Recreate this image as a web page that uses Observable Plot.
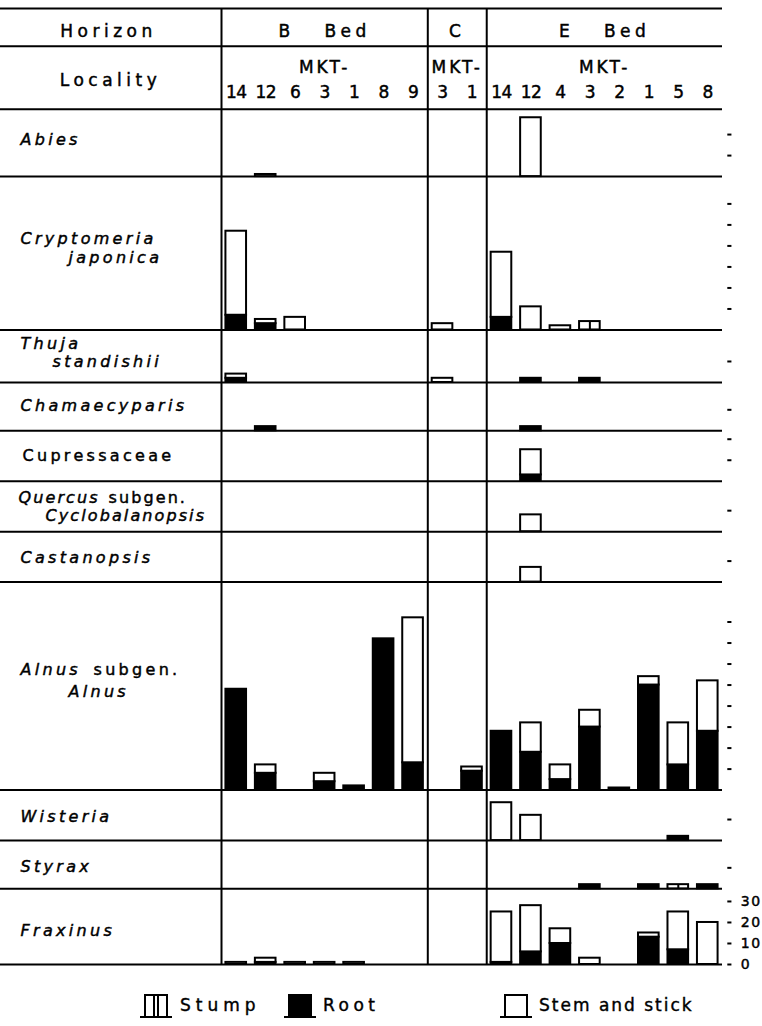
<!DOCTYPE html>
<html><head><meta charset="utf-8">
<script src="https://cdn.jsdelivr.net/npm/d3@7"></script>
<script src="https://cdn.jsdelivr.net/npm/@observablehq/plot@0.6"></script>
<style>
body{margin:0;background:#fff;}
#wrap{position:relative;width:762px;height:1026px;font-family:"DejaVu Sans",sans-serif;color:#000;}
#chart svg text{white-space:pre;paint-order:stroke;stroke:#000;stroke-width:0.45px;}
g[aria-description="hdr"] text{letter-spacing:4.5px;}
g[aria-description="mkt"] text{letter-spacing:3px;}
g[aria-description="num"] text{letter-spacing:-0.5px;}
g[aria-description="taxon"] text{letter-spacing:3.3px;}
g[aria-description="taxon-tight"] text{letter-spacing:2.1px;}
g[aria-description="scale"] text{letter-spacing:1.5px;}
#legend{position:absolute;top:990px;left:0;width:762px;height:30px;font-size:17px;}
#legend .ic{position:absolute;top:0;}
#legend .tx{position:absolute;top:0;line-height:30px;-webkit-text-stroke:0.4px #000;}
</style></head>
<body><div id="wrap"><div id="chart"></div>
<div id="legend"></div>
</div>
<script>
// ---- data ----
const columns = ["14","12","6","3","1","8","9","3","1","14","12","4","3","2","1","5","8"];
const horizons = ["B   Bed", "C", "E   Bed"];
const horizonSpans = [7, 2, 8];
const taxa = ["Abies","Cryptomeria japonica","Thuja standishii","Chamaecyparis","Cupressaceae",
  "Quercus subgen. Cyclobalanopsis","Castanopsis","Alnus subgen. Alnus","Wisteria","Styrax","Fraxinus"];
const rowMax = [32, 73, 25, 23, 24, 24, 24, 99, 24, 23, 36];
const rowTicks = [[10,20],[10,20,30,40,50,60],[10],[10],[10,20],[10],[10],[10,20,30,40,50,60,70,80],[10],[10],[0,10,20,30]];
const scaleLabels = ["0","10","20","30"];
const kinds = ["Stump","Root","Stem and stick"];
//            B: 14 12  6  3  1  8  9   C: 3  1   E: 14 12  4  3  2  1  5  8
const stump = [
  [0,0,0,0,0,0,0, 0,0, 0,0,0,0,0,0,0,0],
  [0,0,0,0,0,0,0, 0,0, 0,0,0,4,0,0,0,0],
  [0,0,0,0,0,0,0, 0,0, 0,0,0,0,0,0,0,0],
  [0,0,0,0,0,0,0, 0,0, 0,0,0,0,0,0,0,0],
  [0,0,0,0,0,0,0, 0,0, 0,0,0,0,0,0,0,0],
  [0,0,0,0,0,0,0, 0,0, 0,0,0,0,0,0,0,0],
  [0,0,0,0,0,0,0, 0,0, 0,0,0,0,0,0,0,0],
  [0,0,0,0,0,0,0, 0,0, 0,0,0,0,0,0,0,0],
  [0,0,0,0,0,0,0, 0,0, 0,0,0,0,0,0,0,0],
  [0,0,0,0,0,0,0, 0,0, 0,0,0,0,0,0,2,0],
  [0,0,0,0,0,0,0, 0,0, 0,0,0,0,0,0,0,0]
];
const root = [
  [0,0,0,0,0,0,0, 0,0, 0,0,0,0,0,0,0,0],
  [7,3,0,0,0,0,0, 0,0, 6,0,0,0,0,0,0,0],
  [2,0,0,0,0,0,0, 0,0, 0,2,0,2,0,0,0,0],
  [0,2,0,0,0,0,0, 0,0, 0,2,0,0,0,0,0,0],
  [0,0,0,0,0,0,0, 0,0, 0,3,0,0,0,0,0,0],
  [0,0,0,0,0,0,0, 0,0, 0,0,0,0,0,0,0,0],
  [0,0,0,0,0,0,0, 0,0, 0,0,0,0,0,0,0,0],
  [48,8,0,4,2,72,13, 0,9, 28,18,5,30,1,50,12,28],
  [0,0,0,0,0,0,0, 0,0, 0,0,0,0,0,0,2,0],
  [0,0,0,0,0,0,0, 0,0, 0,0,0,2,0,2,0,2],
  [0,1,0,0,0,0,0, 0,0, 1,6,10,0,0,13,7,0]
];
const stem = [
  [0,1,0,0,0,0,0, 0,0, 0,28,0,0,0,0,0,0],
  [40,2,6,0,0,0,0, 3,0, 31,11,2,0,0,0,0,0],
  [2,0,0,0,0,0,0, 2,0, 0,0,0,0,0,0,0,0],
  [0,0,0,0,0,0,0, 0,0, 0,0,0,0,0,0,0,0],
  [0,0,0,0,0,0,0, 0,0, 0,12,0,0,0,0,0,0],
  [0,0,0,0,0,0,0, 0,0, 0,8,0,0,0,0,0,0],
  [0,0,0,0,0,0,0, 0,0, 0,7,0,0,0,0,0,0],
  [0,4,0,4,0,0,69, 0,2, 0,14,7,8,0,4,20,24],
  [0,0,0,0,0,0,0, 0,0, 18,12,0,0,0,0,0,0],
  [0,0,0,0,0,0,0, 0,0, 0,0,0,0,0,0,0,0],
  [1,2,1,1,1,0,0, 0,0, 24,22,7,3,0,2,18,20]
];

// ---- layout ----
const headerUnits = [18, 30];
const total = d3.sum(headerUnits) + d3.sum(rowMax);
const base = [];
let cursor = total - d3.sum(headerUnits);
rowMax.forEach((m, r) => { cursor -= m; base[r] = cursor; });
const bounds = [total, total - headerUnits[0], total - d3.sum(headerUnits), ...base];
const rowCenter = base.map((b, r) => b + rowMax[r] / 2);
const row1Center = total - headerUnits[0] / 2;
const row2Center = total - headerUnits[0] - headerUnits[1] / 2;
const groupStarts = d3.cumsum([0, ...horizonSpans.slice(0, -1)]);
const groupCenters = horizonSpans.map((s, k) => groupStarts[k] + s / 2);

const segs = [];
taxa.forEach((t, r) => columns.forEach((c, i) => {
  let cum = base[r];
  [["stump", stump], ["root", root], ["stem", stem]].forEach(([type, arr]) => {
    const v = arr[r][i];
    if (v > 0) { segs.push({r, i, type, y1: cum, y2: cum + v}); cum += v; }
  });
}));
const ticks = rowTicks.flatMap((ts, r) => ts.map(v => ({r, v, y: base[r] + v})));

// taxon label parts: [row, text, italic, dx, dy, class]
const labelParts = [
  [0, "Abies", true, 20, -3, "taxon"],
  [1, "Cryptomeria", true, 20, -14, "taxon"], [1, "japonica", true, 68, 5, "taxon"],
  [2, "Thuja", true, 20, -12, "taxon"], [2, "standishii", true, 52, 6, "taxon"],
  [3, "Chamaecyparis", true, 20, -1, "taxon"],
  [4, "Cupressaceae", false, 22, 0, "taxon"],
  [5, "Quercus", true, 18, -9, "taxon-tight"], [5, "subgen.", false, 108, -9, "taxon-tight"],
  [5, "Cyclobalanopsis", true, 45, 9, "taxon-tight"],
  [6, "Castanopsis", true, 20, 1, "taxon"],
  [7, "Alnus", true, 20, -16, "taxon"], [7, "subgen.", false, 93, -16, "taxon"], [7, "Alnus", true, 68, 6, "taxon"],
  [8, "Wisteria", true, 20, 2, "taxon"],
  [9, "Styrax", true, 20, 2, "taxon"],
  [10, "Fraxinus", true, 20, 4, "taxon"]
];
const labelMarks = labelParts.map(([r, t, it, dx, dy, cls]) =>
  Plot.text([t], {frameAnchor: "left", y: () => rowCenter[r], text: d => d, textAnchor: "start",
    dx, dy, fontStyle: it ? "italic" : "normal", fontSize: 16, ariaDescription: cls}));

const chart = Plot.plot({
  width: 762, height: 970,
  marginLeft: 0, marginRight: 40, marginTop: 8, marginBottom: 6,
  x: {type: "linear", domain: [0, 17], range: [221, 722], axis: null},
  y: {domain: [0, total], axis: null},
  color: {type: "identity"},
  style: {fontFamily: "'DejaVu Sans', sans-serif", fontSize: "17px", color: "black", background: "white", overflow: "visible"},
  marks: [
    Plot.ruleY(bounds, {stroke: "black", strokeWidth: 2}),
    Plot.ruleX(groupStarts, {y1: () => 0, y2: () => total, stroke: "black", strokeWidth: 2}),
    Plot.rect(segs, {x1: d => d.i + 0.15, x2: d => d.i + 0.85, y1: "y1", y2: "y2",
      fill: d => d.type === "root" ? "black" : "white", stroke: "black", strokeWidth: 2}),
    Plot.ruleX(segs.filter(s => s.type === "stump"), {x: d => d.i + 0.5, y1: "y1", y2: "y2", stroke: "black", strokeWidth: 2}),
    Plot.ruleY(ticks, {y: "y", x1: () => 17.18, x2: () => 17.32, stroke: "black", strokeWidth: 2}),
    Plot.text(scaleLabels, {x: () => 17.62, y: d => base[10] + (+d), text: d => d, textAnchor: "start", fontSize: 14, ariaDescription: "scale"}),
    Plot.text(["Horizon"], {frameAnchor: "left", dx: 108, dy: 4, y: () => row1Center, text: d => d, textAnchor: "middle", ariaDescription: "hdr"}),
    Plot.text(["Locality"], {frameAnchor: "left", dx: 110, dy: 3, y: () => row2Center, text: d => d, textAnchor: "middle", ariaDescription: "hdr"}),
    Plot.text(horizons, {x: (d, k) => groupCenters[k], y: () => row1Center, dy: 4, text: d => d, ariaDescription: "hdr"}),
    Plot.text(horizons, {x: (d, k) => groupCenters[k], y: () => row2Center, text: () => "MKT-", dy: -10, ariaDescription: "mkt"}),
    Plot.text(columns, {x: (d, i) => i + 0.5, y: () => row2Center, text: d => d, dy: 15, ariaDescription: "num"}),
    ...labelMarks
  ]
});
document.getElementById("chart").append(chart);

// ---- legend (below the chart) ----
const legendPos = [[140, 180, 5], [284, 323, 4.5], [500, 539, 2]];
const leg = d3.select("#legend");
kinds.forEach((k, j) => {
  const s = leg.append("svg").attr("class", "ic").attr("width", 32).attr("height", 30)
    .style("left", legendPos[j][0] + "px");
  s.append("rect").attr("x", 5).attr("y", 5).attr("width", 22).attr("height", 22)
    .attr("fill", k === "Root" ? "black" : "white").attr("stroke", "black").attr("stroke-width", 2);
  if (k === "Stump") {
    s.append("line").attr("x1", 14).attr("x2", 14).attr("y1", 5).attr("y2", 27).attr("stroke", "black").attr("stroke-width", 2);
    s.append("line").attr("x1", 18).attr("x2", 18).attr("y1", 5).attr("y2", 27).attr("stroke", "black").attr("stroke-width", 2);
  }
  s.append("line").attr("x1", 0).attr("x2", 32).attr("y1", 27).attr("y2", 27).attr("stroke", "black").attr("stroke-width", 2);
  leg.append("span").attr("class", "tx").style("left", legendPos[j][1] + "px")
    .style("letter-spacing", legendPos[j][2] + "px").text(k);
});
</script>
</body></html>
